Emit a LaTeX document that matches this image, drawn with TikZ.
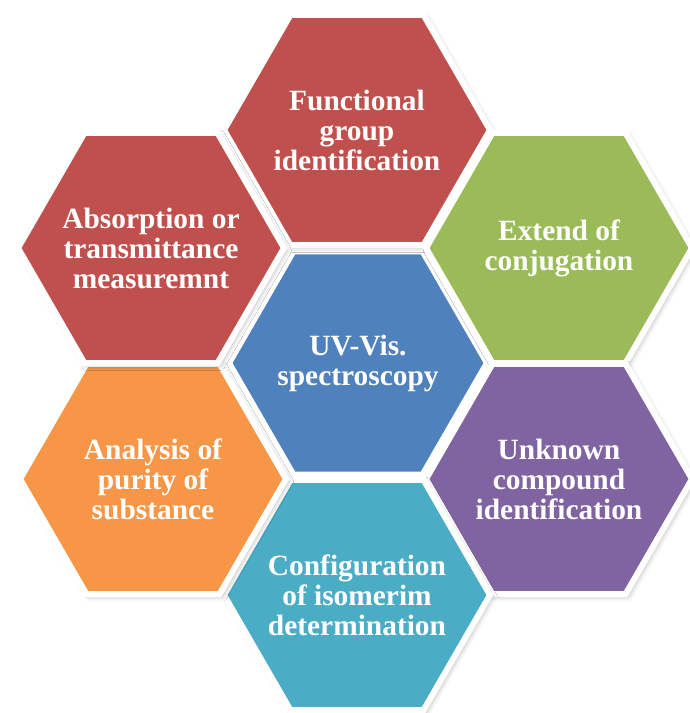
\documentclass[tikz,border=0pt]{standalone}
\usepackage{fontspec}
\setmainfont{Liberation Serif}
\usetikzlibrary{shapes.geometric,shadows.blur}

\definecolor{cellred}{HTML}{C0504D}
\definecolor{cellgreen}{HTML}{9BBB59}
\definecolor{cellblue}{HTML}{4F81BD}
\definecolor{cellpurple}{HTML}{8064A2}
\definecolor{cellorange}{HTML}{F79646}
\definecolor{cellaqua}{HTML}{4BACC6}

\tikzset{
  % empty hexagonal cell; its size is fixed by minimum size alone
  hexcell/.style={
    regular polygon, regular polygon sides=6,
    minimum size=133pt, inner sep=0pt, outer sep=0pt,
    draw=white, line width=3pt, fill=#1,
    blur shadow={shadow xshift=1.2pt, shadow yshift=-1.2pt,
                 shadow blur radius=2.5pt, shadow opacity=30}
  },
  celltext/.style={
    text=white, align=center, inner sep=0pt,
    font=\bfseries\fontsize{14.7}{15}\selectfont
  }
}

\begin{document}
\begin{tikzpicture}[x=0.5pt, y=-0.5pt]
  \useasboundingbox (0,0) rectangle (690,713);

  % central cell
  \node[hexcell=cellblue, minimum size=129pt] (h-uv) at (358,363) {};

  % surrounding cells, clockwise from the top
  \node[hexcell=cellred]    (h-func) at (357,130) {};
  \node[hexcell=cellgreen]  (h-conj) at (559,248) {};
  \node[hexcell=cellpurple] (h-unkn) at (559,479) {};
  \node[hexcell=cellaqua]   (h-iso)  at (357,595) {};
  \node[hexcell=cellorange] (h-pure) at (153,479) {};
  \node[hexcell=cellred]    (h-abs)  at (151,248) {};

  % labels
  \node[celltext] (uv)   at (h-uv)   {UV-Vis.\\spectroscopy};
  \node[celltext] (func) at (h-func) {Functional\\group\\identification};
  \node[celltext] (conj) at (h-conj) {Extend of\\conjugation};
  \node[celltext] (unkn) at (h-unkn) {Unknown\\compound\\identification};
  \node[celltext] (iso)  at (h-iso)  {Configuration\\of isomerim\\determination};
  \node[celltext] (pure) at (h-pure) {Analysis of\\purity of\\substance};
  \node[celltext] (abs)  at (h-abs)  {Absorption or\\transmittance\\measuremnt};
\end{tikzpicture}
\end{document}
